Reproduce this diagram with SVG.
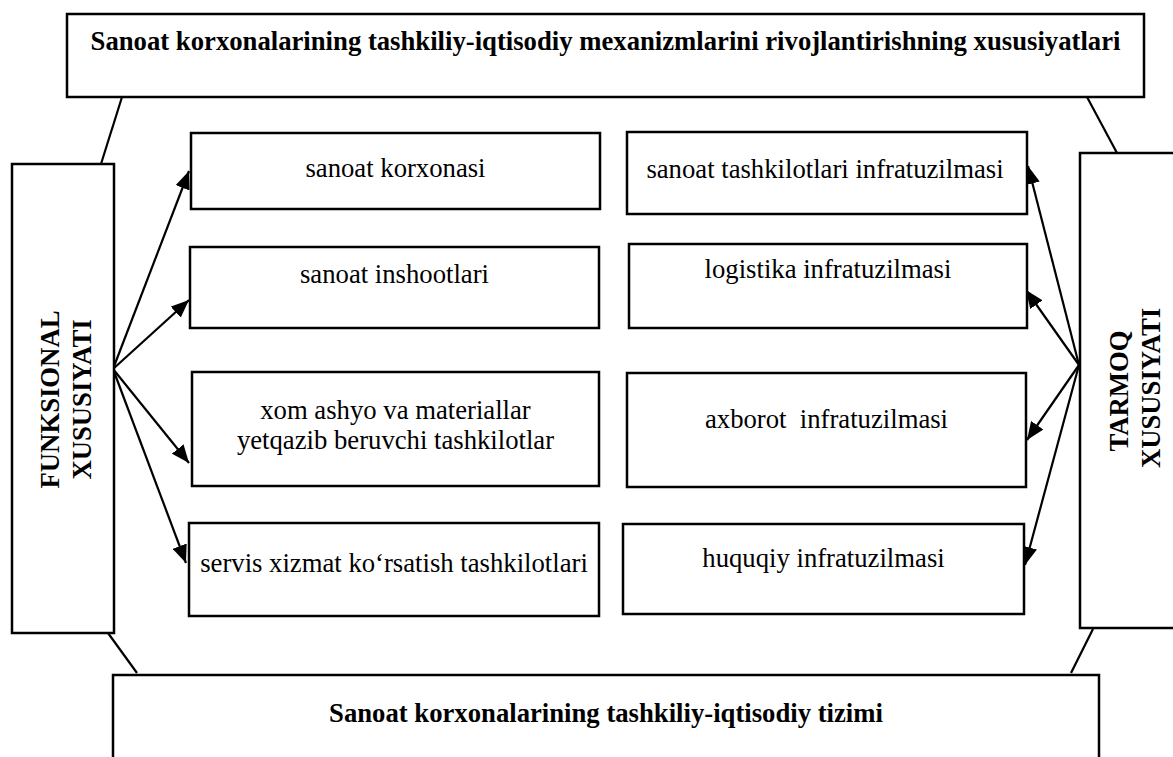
<svg xmlns="http://www.w3.org/2000/svg" width="1173" height="757" viewBox="0 0 1173 757">
<style>
.box{fill:#fff;stroke:#000;stroke-width:2.5}
.t{font-family:"Liberation Serif",Tinos,"Times New Roman",Times,"DejaVu Serif",serif;font-size:26.7px;font-weight:400;fill:#000;text-anchor:middle}
.b{font-weight:700}
.ln{stroke:#000;stroke-width:2.2;fill:none}
.ar{stroke:#000;stroke-width:2.2;fill:none;marker-end:url(#ah)}
</style>
<defs>
<marker id="ah" markerUnits="userSpaceOnUse" markerWidth="19" markerHeight="15" refX="18" refY="7.5" orient="auto">
<path d="M0,0 L18,7.5 L0,15 Z" fill="#000"/>
</marker>
</defs>
<rect width="1173" height="757" fill="#fff"/>
<g id="connectors">
<line class="ln" x1="122" y1="97" x2="101" y2="164"/>
<line class="ln" x1="1087" y1="97" x2="1117" y2="153"/>
<line class="ln" x1="108" y1="633" x2="137" y2="673"/>
<line class="ln" x1="1093" y1="629" x2="1071" y2="673"/>
<line class="ar" x1="113" y1="369" x2="189" y2="171"/>
<line class="ar" x1="113" y1="369" x2="189" y2="300"/>
<line class="ar" x1="113" y1="369" x2="189" y2="463"/>
<line class="ar" x1="113" y1="369" x2="186" y2="563"/>
<line class="ar" x1="1079" y1="365" x2="1028" y2="166"/>
<line class="ar" x1="1079" y1="365" x2="1026" y2="290"/>
<line class="ar" x1="1079" y1="365" x2="1027" y2="440"/>
<line class="ar" x1="1079" y1="365" x2="1025" y2="565"/>
</g>
<g id="top">
<rect class="box" x="67" y="14" width="1077" height="83"/>
<text class="t b" x="605.5" y="50">Sanoat korxonalarining tashkiliy-iqtisodiy mexanizmlarini rivojlantirishning xususiyatlari</text>
</g>
<g id="bottom">
<rect class="box" x="113" y="675" width="986" height="110"/>
<text class="t b" x="606" y="722">Sanoat korxonalarining tashkiliy-iqtisodiy tizimi</text>
</g>
<g id="funksional">
<rect class="box" x="12" y="164" width="102" height="469"/>
<text class="t b" transform="translate(59,399.5) rotate(-90)">FUNKSIONAL</text>
<text class="t b" transform="translate(91,399.5) rotate(-90)">XUSUSIYATI</text>
</g>
<g id="tarmoq">
<rect class="box" x="1080" y="153" width="110" height="475"/>
<text class="t b" transform="translate(1128,391) rotate(-90)">TARMOQ</text>
<text class="t b" transform="translate(1160,388) rotate(-90)">XUSUSIYATI</text>
</g>
<g id="l1">
<rect class="box" x="191" y="133" width="409" height="76"/>
<text class="t" x="395.5" y="177">sanoat korxonasi</text>
</g>
<g id="l2">
<rect class="box" x="190" y="247" width="409" height="81"/>
<text class="t" x="394.5" y="283">sanoat inshootlari</text>
</g>
<g id="l3">
<rect class="box" x="192" y="372" width="407" height="114"/>
<text class="t" x="395.5" y="419">xom ashyo va materiallar</text>
<text class="t" x="395.5" y="449">yetqazib beruvchi tashkilotlar</text>
</g>
<g id="l4">
<rect class="box" x="189" y="523" width="410" height="93"/>
<text class="t" x="394" y="572">servis xizmat ko‘rsatish tashkilotlari</text>
</g>
<g id="r1">
<rect class="box" x="627" y="132" width="400" height="82"/>
<text class="t" x="825" y="178">sanoat tashkilotlari infratuzilmasi</text>
</g>
<g id="r2">
<rect class="box" x="629" y="244" width="398" height="84"/>
<text class="t" x="828" y="278">logistika infratuzilmasi</text>
</g>
<g id="r3">
<rect class="box" x="627" y="373" width="399" height="114"/>
<text class="t" x="826.5" y="428" xml:space="preserve">axborot  infratuzilmasi</text>
</g>
<g id="r4">
<rect class="box" x="623" y="524" width="401" height="90"/>
<text class="t" x="823.5" y="567">huquqiy infratuzilmasi</text>
</g>
</svg>
